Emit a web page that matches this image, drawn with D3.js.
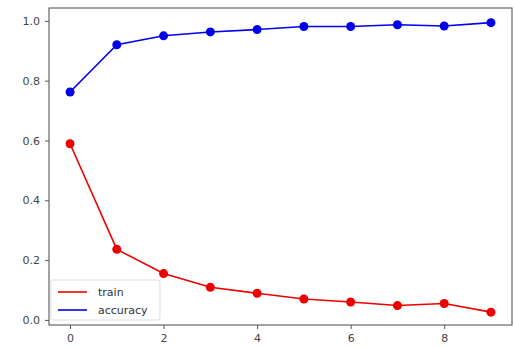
<!DOCTYPE html>
<html>
<head>
<meta charset="utf-8">
<script src="https://cdn.jsdelivr.net/npm/d3@7"></script>
<style>
  body { margin: 0; background: #fff; }
  svg { font-family: "DejaVu Sans", sans-serif; }
</style>
</head>
<body>
<svg id="chart" width="514" height="348"></svg>
<script>
// values
var epochs = [0, 1, 2, 3, 4, 5, 6, 7, 8, 9];
var train = [0.589, 0.236, 0.155, 0.109, 0.089, 0.070, 0.060, 0.048, 0.055, 0.026];
var accuracy = [0.762, 0.920, 0.950, 0.963, 0.971, 0.981, 0.981, 0.987, 0.983, 0.994];
var xTicks = [0, 2, 4, 6, 8];
var yTicks = [0.0, 0.2, 0.4, 0.6, 0.8, 1.0];
var seriesNames = ['train', 'accuracy'];
var seriesColors = ['#ee0000', '#0000ee'];

var svg = d3.select('#chart');
var margin = {left: 49, top: 8, right: 2, bottom: 23};
var width = 514 - margin.left - margin.right;
var height = 348 - margin.top - margin.bottom;

var x = d3.scaleLinear().domain([-0.45, 9.45]).range([0, width]);
var y = d3.scaleLinear().domain([-0.017, 1.043]).range([height, 0]);

var g = svg.append('g').attr('transform', 'translate(' + margin.left + ',' + margin.top + ')');

// axes
var xAxis = g.append('g')
  .attr('transform', 'translate(0,' + height + ')')
  .call(d3.axisBottom(x).tickValues(xTicks).tickFormat(d3.format('d')).tickSize(4).tickPadding(5));
var yAxis = g.append('g')
  .call(d3.axisLeft(y).tickValues(yTicks).tickFormat(d3.format('.1f')).tickSize(4).tickPadding(5));
[xAxis, yAxis].forEach(function(a){
  a.select('.domain').remove();
  a.selectAll('line').attr('stroke', '#555');
  a.selectAll('text').attr('fill', '#444').style('font-size', '11px').style('font-family', '"DejaVu Sans", sans-serif');
});

// frame
g.append('rect')
  .attr('width', width).attr('height', height)
  .attr('fill', 'none').attr('stroke', '#666').attr('stroke-width', 1.2);

var line = d3.line()
  .x(function(d, i){ return x(epochs[i]); })
  .y(function(d){ return y(d); });

[train, accuracy].forEach(function(series, k){
  g.append('path')
    .datum(series)
    .attr('fill', 'none')
    .attr('stroke', seriesColors[k])
    .attr('stroke-width', 1.6)
    .attr('d', line);
  g.selectAll('.dot' + k)
    .data(series)
    .enter().append('circle')
    .attr('cx', function(d, i){ return x(epochs[i]); })
    .attr('cy', function(d){ return y(d); })
    .attr('r', 4.5)
    .attr('fill', seriesColors[k]);
});

// legend
var legend = g.append('g').attr('transform', 'translate(2,' + (280 - margin.top) + ')');
legend.append('rect')
  .attr('width', 109).attr('height', 40).attr('rx', 2)
  .attr('fill', '#fff').attr('fill-opacity', 0.8)
  .attr('stroke', '#ddd');
seriesNames.forEach(function(name, k){
  var ly = 12 + k * 18;
  legend.append('line')
    .attr('x1', 7).attr('x2', 36).attr('y1', ly).attr('y2', ly)
    .attr('stroke', seriesColors[k]).attr('stroke-width', 1.6);
  legend.append('text')
    .attr('x', 47).attr('y', ly).attr('dy', '0.35em')
    .attr('fill', '#333')
    .style('font-size', '11px')
    .text(name);
});
</script>
</body>
</html>
